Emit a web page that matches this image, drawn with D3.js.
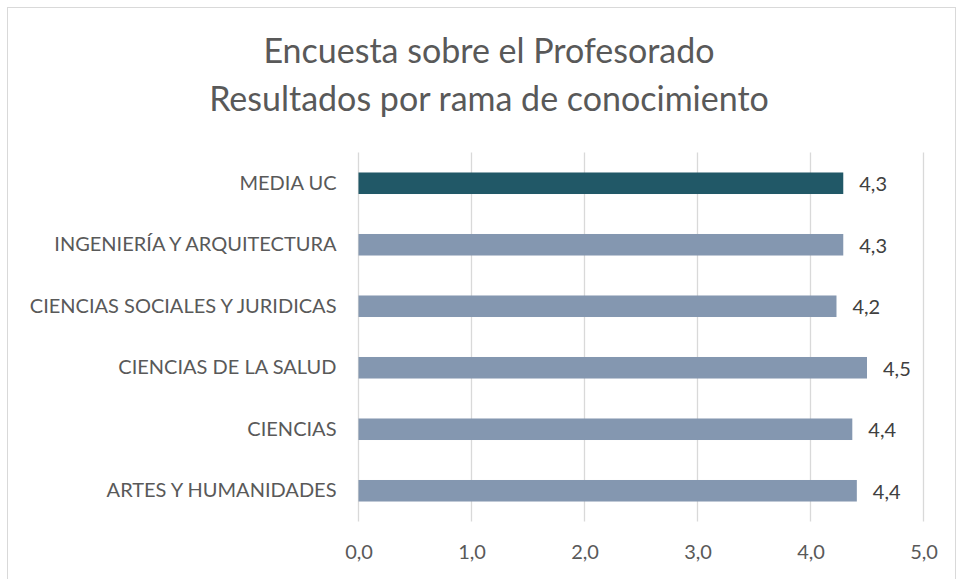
<!DOCTYPE html>
<html><head><meta charset="utf-8">
<script src="https://cdn.jsdelivr.net/npm/d3@7"></script>
<style>body{margin:0;background:#fff}svg{display:block}text{font-family:Lato,"Open Sans",sans-serif}</style>
</head><body>
<script>
const titleLines = ["Encuesta sobre el Profesorado", "Resultados por rama de conocimiento"];
const categories = ["MEDIA UC", "INGENIERÍA Y ARQUITECTURA", "CIENCIAS SOCIALES Y JURIDICAS", "CIENCIAS DE LA SALUD", "CIENCIAS", "ARTES Y HUMANIDADES"];
const values = [4.29, 4.29, 4.23, 4.50, 4.37, 4.41];
const tickValues = [0, 1, 2, 3, 4, 5];

const W = 956, H = 579;
const svg = d3.select("body").append("svg").attr("width", W).attr("height", H);
svg.append("rect").attr("x", 7.5).attr("y", 7.5).attr("width", W - 8).attr("height", H).attr("fill", "#fff").attr("stroke", "#d9d9d9").attr("stroke-width", 1);

const fmt = v => d3.format(".1f")(v).replace(".", ",");
const x = d3.scaleLinear().domain([0, 5]).range([358.5, 923.5]);
const y = d3.scaleBand().domain(categories).range([152.5, 521.5]).paddingInner(0.65).paddingOuter(0.325);

svg.selectAll("text.title").data(titleLines).join("text").attr("class", "title")
  .attr("x", 489).attr("y", (d, i) => 63 + i * 48).attr("text-anchor", "middle")
  .attr("font-size", 34).attr("fill", "#595959").text(d => d);

const g = svg.append("g");
g.selectAll("line.grid").data(tickValues).join("line").attr("class", "grid")
  .attr("x1", d => x(d)).attr("x2", d => x(d)).attr("y1", 152.5).attr("y2", 521.5)
  .attr("stroke", "#d9d9d9").attr("stroke-width", 1.3);

g.selectAll("rect.bar").data(categories).join("rect").attr("class", "bar")
  .attr("x", x(0)).attr("y", d => y(d)).attr("height", y.bandwidth())
  .attr("width", (d, i) => x(values[i]) - x(0))
  .attr("fill", (d, i) => i === 0 ? "#215867" : "#8497b0");

g.selectAll("text.val").data(categories).join("text").attr("class", "val")
  .attr("x", (d, i) => x(values[i]) + 16).attr("y", d => y(d) + y.bandwidth() / 2 + 8)
  .attr("font-size", 20).attr("fill", "#404040").text((d, i) => fmt(values[i]));

const yAxis = d3.axisLeft(y).tickSize(0).tickPadding(22);
const ya = svg.append("g").attr("transform", `translate(${x(0)},0)`).call(yAxis);
ya.select(".domain").remove();
ya.selectAll("text").attr("font-size", 20).attr("fill", "#595959").style("font-family", "Lato,'Open Sans',sans-serif");

const xAxis = d3.axisBottom(x).tickValues(tickValues).tickSize(0).tickPadding(0).tickFormat(fmt);
const xa = svg.append("g").attr("transform", `translate(0,545)`).call(xAxis);
xa.select(".domain").remove();
xa.selectAll("text").attr("font-size", 20).attr("fill", "#595959").style("font-family", "Lato,'Open Sans',sans-serif");
</script>
</body></html>
